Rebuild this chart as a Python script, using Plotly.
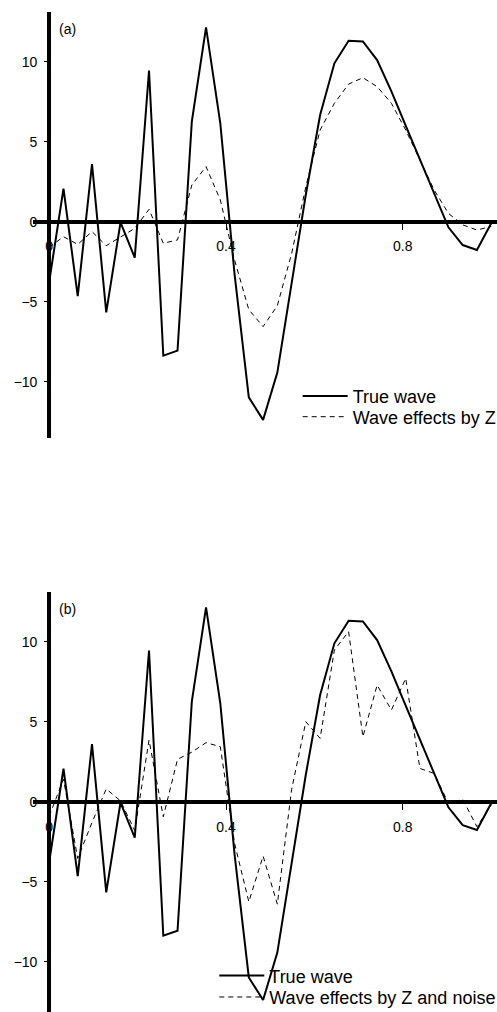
import plotly.graph_objects as go

# ---- data ----
x_vals = [0.0, 0.0323, 0.0645, 0.0968, 0.1290, 0.1613, 0.1935, 0.2258, 0.2581, 0.2903,
          0.3226, 0.3548, 0.3871, 0.4194, 0.4516, 0.4839, 0.5161, 0.5484, 0.5806, 0.6129,
          0.6452, 0.6774, 0.7097, 0.7419, 0.7742, 0.8065, 0.8387, 0.8710, 0.9032, 0.9355,
          0.9677, 1.0]

true_wave = [-3.75, 2.07, -4.65, 3.6, -5.67, -0.05, -2.25, 9.45, -8.37, -8.06,
             6.25, 12.15, 6.15, -3.3, -10.98, -12.39, -9.43, -3.83, 1.7, 6.67,
             9.9, 11.31, 11.27, 10.1, 8.15, 6.0, 3.85, 1.7, -0.35, -1.46,
             -1.77, -0.1]

wave_z = [-1.6, -0.94, -1.42, -0.62, -1.5, -0.94, -0.42, 0.77, -1.35, -1.14,
          2.29, 3.44, 1.36, -2.4, -5.5, -6.56, -5.25, -2.0, 2.19, 5.73,
          7.4, 8.6, 9.0, 8.44, 7.4, 5.73, 3.86, 1.98, 0.52, -0.2,
          -0.52, -0.3]

wave_z_noise = [-0.9, 1.4, -3.54, -1.3, 0.8, 0.05, -1.8, 3.85, -0.94, 2.65,
                3.1, 3.69, 3.44, -2.6, -6.25, -3.4, -6.4, 0.77, 5.0, 3.96,
                9.48, 10.63, 4.06, 7.29, 5.73, 7.71, 2.08, 1.77, -0.1, 0.15,
                -1.56, -0.2]

x_ticks = [0, 0.4, 0.8]
x_ticktext = ["0", "0.4", "0.8"]
y_ticks = [-10, -5, 0, 5, 10]
panel_labels = ["(a)", "(b)"]
legend_names_a = ["True wave", "Wave effects by Z"]
legend_names_b = ["True wave", "Wave effects by Z and noise"]

# ---- layout constants ----
W, H = 497, 1012
ML = 33
FONT = "Liberation Sans, Arial, Helvetica, sans-serif"
x_range = [-0.0367, 1.0131]
dom_a = [0.5669, 0.98844]
range_a = [-13.54, 13.125]
dom_b = [0.0, 0.41532]
range_b = [-13.14, 13.125]
DASH = "5px,4px"


def zero_pos(dom, rng):
    return dom[0] + (0 - rng[0]) / (rng[1] - rng[0]) * (dom[1] - dom[0])


x0_pos = (0 - x_range[0]) / (x_range[1] - x_range[0])


fig = go.Figure()

# panel (a)
fig.add_trace(go.Scatter(x=x_vals, y=true_wave, mode="lines", name=legend_names_a[0],
                         line=dict(color="black", width=2), xaxis="x", yaxis="y",
                         legend="legend"))
fig.add_trace(go.Scatter(x=x_vals, y=wave_z, mode="lines", name=legend_names_a[1],
                         line=dict(color="black", width=1, dash=DASH), xaxis="x", yaxis="y",
                         legend="legend2"))
# panel (b)
fig.add_trace(go.Scatter(x=x_vals, y=true_wave, mode="lines", name=legend_names_b[0],
                         line=dict(color="black", width=2), xaxis="x2", yaxis="y2",
                         legend="legend3"))
fig.add_trace(go.Scatter(x=x_vals, y=wave_z_noise, mode="lines", name=legend_names_b[1],
                         line=dict(color="black", width=1, dash=DASH), xaxis="x2", yaxis="y2",
                         legend="legend4"))

tickfont = dict(family=FONT, size=14, color="black")


def xaxis_cfg(ydom, yrng):
    return dict(range=x_range, domain=[0, 1], anchor="free",
                position=zero_pos(ydom, yrng), showline=True, linewidth=4, linecolor="black",
                showgrid=False, zeroline=False, tickvals=x_ticks, ticktext=x_ticktext,
                ticks="outside", ticklen=6, tickwidth=1, tickcolor="black",
                tickfont=tickfont, ticklabelstandoff=5, layer="below traces")


def yaxis_cfg(ydom, yrng):
    return dict(range=yrng, domain=ydom, anchor="free", position=x0_pos,
                showline=True, linewidth=4, linecolor="black", showgrid=False,
                zeroline=False, tickvals=y_ticks, ticks="outside", ticklen=3, tickwidth=1,
                tickcolor="black", tickfont=tickfont, ticklabelstandoff=4,
                layer="below traces")


def legend_cfg(sample_left_px, center_px):
    # positions given in container (full figure) pixels
    return dict(xref="container", yref="container",
                x=(sample_left_px - 5) / W, xanchor="left",
                y=1 - (center_px + 2) / H, yanchor="middle",
                bgcolor="rgba(0,0,0,0)", borderwidth=0,
                font=dict(family=FONT, size=18, color="black"),
                itemwidth=45, tracegroupgap=0)


fig.update_layout(
    width=W, height=H,
    margin=dict(l=ML, r=0, t=0, b=0, pad=0, autoexpand=False),
    paper_bgcolor="white", plot_bgcolor="white",
    xaxis=xaxis_cfg(dom_a, range_a), yaxis=yaxis_cfg(dom_a, range_a),
    xaxis2=xaxis_cfg(dom_b, range_b), yaxis2=yaxis_cfg(dom_b, range_b),
    showlegend=True,
    legend=legend_cfg(302.7, 394.3),
    legend2=legend_cfg(302.7, 415.0),
    legend3=legend_cfg(219.3, 973.8),
    legend4=legend_cfg(219.3, 995.3),
    annotations=[
        dict(text=panel_labels[0], x=0.0183, y=12.03, xref="x", yref="y",
             xanchor="left", yanchor="middle", showarrow=False,
             font=dict(family=FONT, size=14, color="black")),
        dict(text=panel_labels[1], x=0.0183, y=12.03, xref="x2", yref="y2",
             xanchor="left", yanchor="middle", showarrow=False,
             font=dict(family=FONT, size=14, color="black")),
    ],
)

fig.write_html(
    "out.html",
    config={"displayModeBar": False},
    post_script="document.body.style.margin='0px';document.body.style.padding='0px';"
                "document.documentElement.style.overflow='hidden';",
)
